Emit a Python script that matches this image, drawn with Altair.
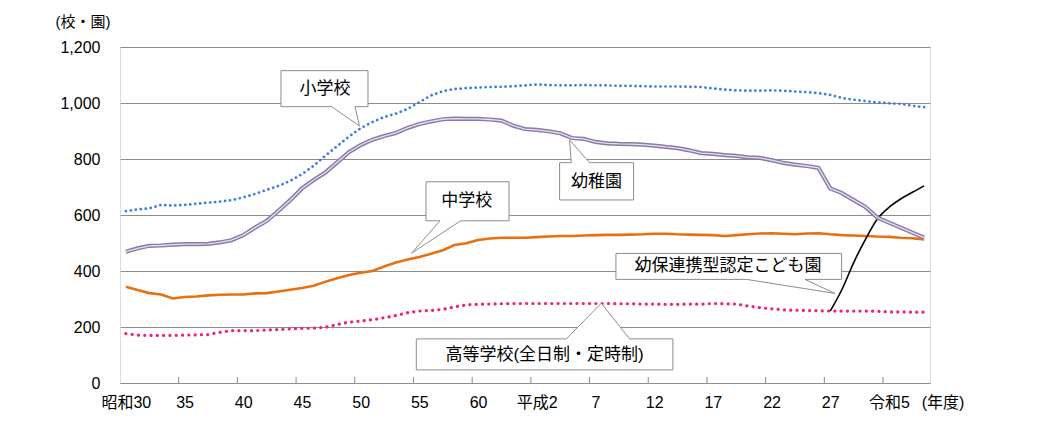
import altair as alt
import pandas as pd

FONT = "Liberation Sans, Noto Sans CJK JP"

# ---- data ----
years = list(range(1955, 2024))
elementary = [614, 620, 624, 636, 634, 636, 640, 644, 648, 653,
              663, 675, 690, 704, 722, 746, 776, 812, 846, 880,
              910, 932, 950, 962, 979, 1003, 1027, 1042, 1050, 1053,
              1055, 1057, 1058, 1060, 1063, 1066, 1064, 1063, 1063, 1064,
              1063, 1063, 1061, 1061, 1060, 1059, 1059, 1059, 1058, 1057,
              1052, 1048, 1045, 1044, 1044, 1045, 1044, 1041, 1039, 1035,
              1029, 1018, 1012, 1007, 1002, 999, 997, 990, 985]
kindergarten = [469, 481, 490, 491, 494, 496, 496, 497, 502, 510,
                528, 555, 579, 615, 653, 695, 725, 752, 788, 824,
                850, 869, 882, 893, 911, 925, 934, 942, 944, 943,
                943, 941, 937, 919, 907, 904, 899, 892, 875, 872,
                861, 856, 854, 853, 851, 848, 843, 839, 831, 821,
                818, 814, 811, 806, 804, 796, 786, 780, 775, 768,
                695, 678, 653, 629, 591, 573, 555, 537, 519]
junior_high = [344, 332, 321, 316, 302, 307, 309, 313, 315, 316,
               316, 320, 321, 327, 333, 339, 347, 362, 374, 386,
               394, 400, 416, 430, 441, 450, 462, 474, 493, 499,
               511, 516, 519, 519, 519, 521, 523, 525, 525, 527,
               528, 529, 529, 530, 531, 533, 533, 531, 530, 529,
               528, 525, 528, 531, 534, 535, 533, 531, 534, 535,
               531, 528, 527, 525, 523, 522, 519, 517, 513]
high_school = [176, 171, 170, 170, 170, 171, 172, 173, 181, 187,
               187, 187, 189, 191, 193, 195, 196, 199, 209, 217,
               221, 226, 233, 241, 251, 257, 259, 263, 272, 279,
               281, 282, 283, 284, 284, 284, 284, 284, 284, 284,
               284, 284, 283, 283, 282, 282, 281, 281, 282, 281,
               284, 283, 282, 275, 269, 265, 261, 260, 259, 258,
               257, 257, 257, 257, 256, 254, 254, 253, 253]
kodomo_years = [2015, 2016, 2017, 2018, 2019, 2020, 2021, 2022, 2023]
kodomo = [257, 334, 430, 513, 585, 627, 657, 681, 704]

label_years = [1955, 1960, 1965, 1970, 1975, 1980, 1985, 1990, 1995, 2000, 2005, 2010, 2015, 2020]
label_texts = ["昭和30", "35", "40", "45", "50", "55", "60", "平成2", "7", "12", "17", "22", "27", "令和5"]
tick_bounds = [1959.5, 1964.5, 1969.5, 1974.5, 1979.5, 1984.5, 1989.5, 1994.5,
               1999.5, 2004.5, 2009.5, 2014.5, 2019.5]
y_ticks = [0, 200, 400, 600, 800, 1000, 1200]

# callouts: label, tip (year, value)
callout_labels = ["小学校", "幼稚園", "中学校", "幼保連携型認定こども園", "高等学校(全日制・定時制)"]
callout_years = [1974.9, 1992.8, 1979.35, 2015.4, 1995.5]
callout_values = [918, 868, 464, 320, 285]
# shapes (pixel offsets relative to the tip) and text offsets - styling only
callout_paths = [
    "M -78.5 -55.3 L 8.5 -55.3 L 8.5 -19.3 L -4.5 -19.3 L 0 0 L -27.8 -19.3 L -78.5 -19.3 Z",
    "M -10 22.7 L 1.7 22.7 L 0 0 L 20 22.7 L 64 22.7 L 64 60 L -10 60 Z",
    "M 14.3 -71.3 L 97.3 -71.3 L 97.3 -32.3 L 49 -32.3 L 0 0 L 28.3 -32.3 L 14.3 -32.3 Z",
    "M -219 -40 L 6.7 -40 L 6.7 -14 L -30 -14 L 0 0 L -88.3 -14 L -219 -14 Z",
    "M -185 35.7 L -35 35.7 L 0 0 L 28.3 35.7 L 71.6 35.7 L 71.6 66.7 L -185 66.7 Z",
]
callout_text_offsets = [(-34.5, -37), (27, 42), (55, -52), (-107, -27), (-56.7, 51.5)]

# ---- scales / axes ----
W, H = 810, 336
GRID = "#8c8c8c"
xscale = alt.Scale(domain=[1954.5, 2023.5], nice=False, zero=False)
yscale = alt.Scale(domain=[0, 1200], nice=False)

expr = "''"
for yv, t in zip(reversed(label_years), reversed(label_texts)):
    expr = f"datum.value == {yv} ? '{t}' : ({expr})"

xaxis = alt.Axis(values=label_years, labelExpr=expr, ticks=False, grid=False,
                 domainColor=GRID, labelFontSize=16, labelFont=FONT, labelColor="black",
                 labelPadding=11, labelFlush=False, labelOverlap=False, title=None)
yaxis = alt.Axis(values=y_ticks, format=",.0f", grid=True, gridColor=GRID, gridWidth=1,
                 ticks=False, domain=False, labelFontSize=16, labelFont=FONT,
                 labelColor="black", labelPadding=20, title=None)

X = alt.X("year:Q", scale=xscale, axis=xaxis)
Y = alt.Y("v:Q", scale=yscale, axis=yaxis)


def series(ys, vals):
    return pd.DataFrame({"year": ys, "v": vals})


layers = []

# inner tick marks
layers.append(
    alt.Chart(pd.DataFrame({"year": tick_bounds})).mark_rule(color=GRID, strokeWidth=1)
    .encode(x=alt.X("year:Q", scale=xscale, axis=xaxis), y=alt.value(H - 6), y2=alt.value(H))
)

layers.append(
    alt.Chart(series(years, high_school)).mark_line(
        color="#f0207f", strokeWidth=3.2, strokeDash=[0.1, 6.2], strokeCap="round")
    .encode(x=X, y=Y)
)
layers.append(
    alt.Chart(series(years, junior_high)).mark_line(color="#e8700f", strokeWidth=2.6)
    .encode(x=X, y=Y)
)
layers.append(
    alt.Chart(series(years, elementary)).mark_line(
        color="#3b7ddd", strokeWidth=2.7, strokeDash=[0.1, 4.9], strokeCap="round")
    .encode(x=X, y=Y)
)
layers.append(
    alt.Chart(series(kodomo_years, kodomo)).mark_line(color="black", strokeWidth=1.6,
                                                      interpolate="monotone")
    .encode(x=X, y=Y)
)
layers.append(
    alt.Chart(series(years, kindergarten)).mark_line(color="#8a79a9", strokeWidth=4.2)
    .encode(x=X, y=Y)
)
layers.append(
    alt.Chart(series(years, kindergarten)).mark_line(color="#e6e0ee", strokeWidth=1.3)
    .encode(x=X, y=Y)
)

# callouts
for lab, cy, cv, path, (dx, dy) in zip(callout_labels, callout_years, callout_values,
                                       callout_paths, callout_text_offsets):
    d = pd.DataFrame({"year": [cy], "v": [cv], "label": [lab]})
    layers.append(
        alt.Chart(d).mark_point(shape=path, size=4, filled=True, fill="white", stroke=GRID,
                                strokeWidth=1, opacity=1, fillOpacity=1, strokeOpacity=1)
        .encode(x=X, y=Y)
    )
    layers.append(
        alt.Chart(d).mark_text(dx=dx, dy=dy, fontSize=17, font=FONT, color="black",
                               align="center", baseline="middle")
        .encode(x=X, y=Y, text="label:N")
    )

# unit labels
layers.append(
    alt.Chart(pd.DataFrame({"t": ["(校・園)"]})).mark_text(
        fontSize=15, font=FONT, color="black", align="center", baseline="middle")
    .encode(x=alt.value(-37), y=alt.value(-25), text="t:N")
)
layers.append(
    alt.Chart(pd.DataFrame({"t": ["(年度)"]})).mark_text(
        fontSize=16, font=FONT, color="black", align="center", baseline="middle")
    .encode(x=alt.value(823), y=alt.value(H + 20), text="t:N")
)

chart = alt.layer(*layers).properties(
    width=W, height=H,
    autosize=alt.AutoSizeParams(type="none"),
    padding={"left": 112, "top": 39, "right": 116, "bottom": 31},
).configure_view(stroke=GRID, strokeWidth=1).configure(background="white")

chart.save("out.html", embed_options={"renderer": "svg", "actions": False})
